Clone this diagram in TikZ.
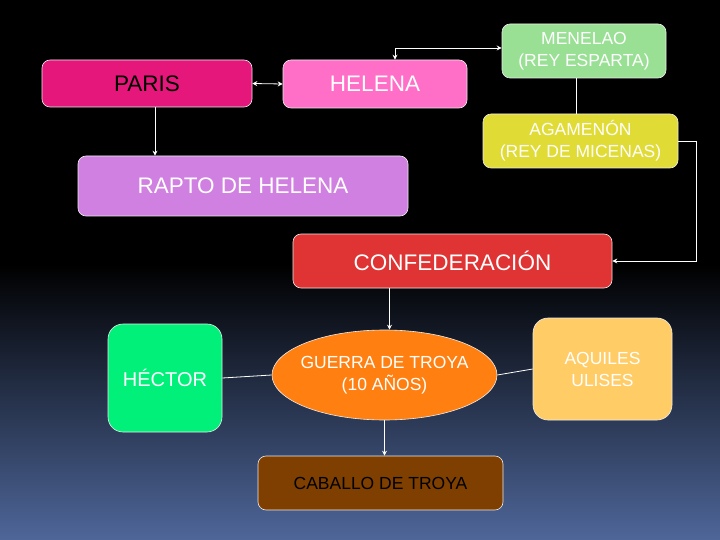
\documentclass[tikz,border=0pt]{standalone}
\usepackage{fontspec}
\setmainfont{Liberation Sans}
\usetikzlibrary{shapes.geometric,arrows.meta}
\definecolor{cparis}{HTML}{E5177A}
\definecolor{chelena}{HTML}{FF6FC8}
\definecolor{cmenelao}{HTML}{99E095}
\definecolor{cagamenon}{HTML}{E0DC35}
\definecolor{crapto}{HTML}{D080E0}
\definecolor{cconfed}{HTML}{E03333}
\definecolor{chector}{HTML}{00F07A}
\definecolor{cguerra}{HTML}{FF8010}
\definecolor{caquiles}{HTML}{FFCC66}
\definecolor{ccaballo}{HTML}{7F3F00}
\definecolor{cbottom}{HTML}{4E6699}
\tikzset{
  box/.style={draw=white!85!gray, line width=0.6pt, rounded corners=8pt, inner sep=0pt, align=center, text=white},
  bigtxt/.style={font=\fontsize{22.5}{26}\selectfont},
  smalltxt/.style={font=\fontsize{17.5}{22}\selectfont},
  conn/.style={draw=white, line width=0.8pt},
  arr/.style={-{Stealth[length=5pt,width=5pt]}},
  darr/.style={{Stealth[length=5pt,width=5pt]}-{Stealth[length=5pt,width=5pt]}}
}
\begin{document}
\begin{tikzpicture}[x=1pt,y=-1pt]
\useasboundingbox (0,0) rectangle (720,540);
\fill[black] (0,0) rectangle (720,265);
\shade[top color=black, bottom color=cbottom] (0,264.5) rectangle (720,540);

\node[box, bigtxt, fill=cparis, text=black, minimum width=210pt, minimum height=47pt] (paris) at (147,83.5) {PARIS};
\node[box, bigtxt, fill=chelena, minimum width=184pt, minimum height=48pt] (helena) at (375,84) {HELENA};
\node[box, smalltxt, fill=cmenelao, minimum width=164pt, minimum height=54pt] (menelao) at (584,51) {MENELAO\\(REY ESPARTA)};
\node[box, smalltxt, fill=cagamenon, minimum width=195pt, minimum height=54pt] (agamenon) at (580.5,141) {AGAMENÓN\\(REY DE MICENAS)};
\node[box, bigtxt, fill=crapto, minimum width=330pt, minimum height=60pt] (rapto) at (243,186) {RAPTO DE HELENA};
\node[box, bigtxt, fill=cconfed, minimum width=319pt, minimum height=54pt] (confed) at (452.5,261) {CONFEDERACIÓN};
\node[box, font=\fontsize{20}{24}\selectfont, rounded corners=15pt, fill=chector, minimum width=114pt, minimum height=108pt] (hector) at (165,378) {HÉCTOR};
\node[box, smalltxt, ellipse, inner sep=-8pt, fill=cguerra, minimum width=225pt, minimum height=90pt] (guerra) at (384.5,375) {GUERRA DE TROYA\\(10 AÑOS)};
\node[box, smalltxt, rounded corners=15pt, fill=caquiles, minimum width=139pt, minimum height=102pt] (aquiles) at (602.5,369) {AQUILES\\ULISES};
\node[box, smalltxt, fill=ccaballo, text=black, minimum width=245pt, minimum height=54pt] (caballo) at (380.5,483) {CABALLO DE TROYA};

\draw[conn, darr] (paris.east) -- (helena.west);
\draw[conn, darr] ([xshift=20pt]helena.north) |- ([yshift=3pt]menelao.west);
\draw[conn] ([xshift=-8pt]menelao.south) -- ([xshift=-8pt]menelao.south |- agamenon.north);
\draw[conn, arr] ([xshift=8pt]paris.south) -- ([xshift=8pt]paris.south |- rapto.north);
\draw[conn, arr] (agamenon.east) -- ++(18,0) |- (confed.east);
\draw[conn, arr] ([xshift=5pt]guerra.north |- confed.south) -- ([xshift=5pt]guerra.north);
\draw[conn] (hector.east) -- (guerra.west);
\draw[conn] (guerra.east) -- (aquiles.west);
\draw[conn, arr] (guerra.south) -- (guerra.south |- caballo.north);
\end{tikzpicture}
\end{document}
